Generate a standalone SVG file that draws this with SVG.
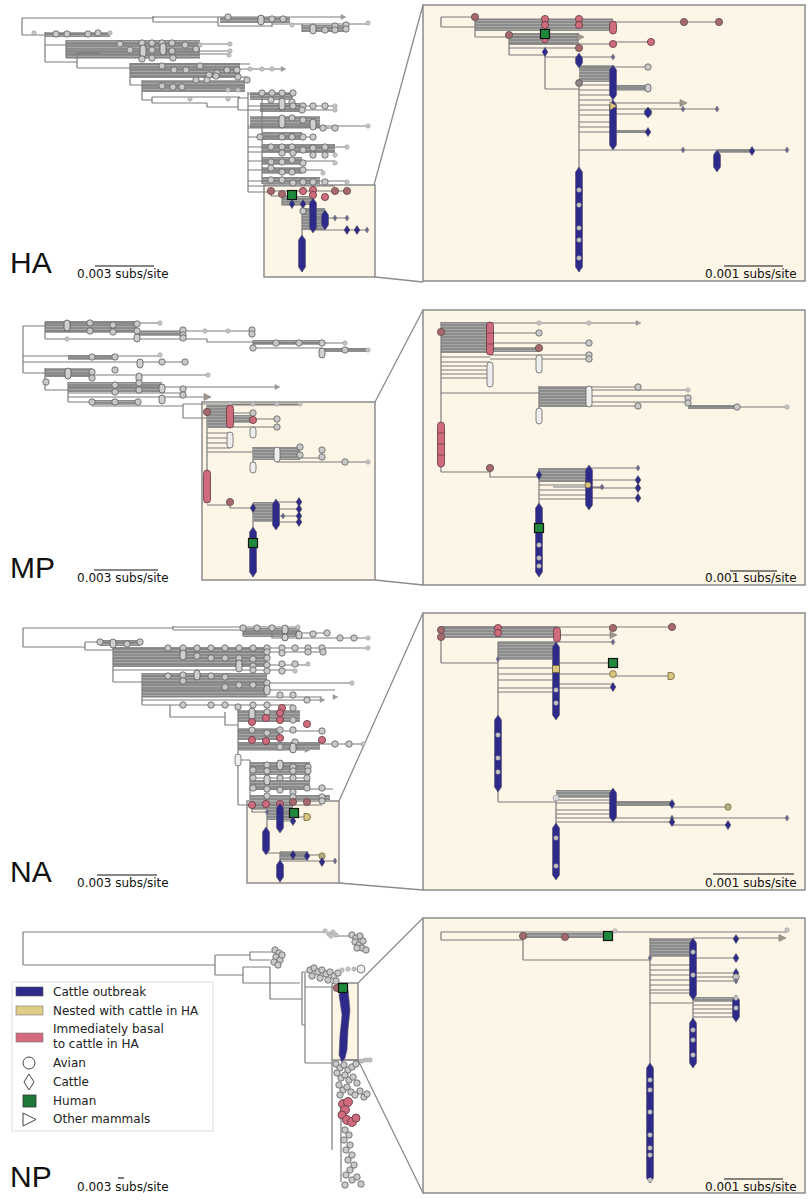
<svg xmlns="http://www.w3.org/2000/svg" width="809" height="1200" viewBox="0 0 809 1200">
<style>
.bg{fill:#ffffff}
.pan{fill:#fdf5e6;stroke:#8c8c8c;stroke-width:1.5}
.zl{stroke:#8c8c8c;stroke-width:1.3;fill:none}
.br{stroke:#7d7d7d;stroke-width:1.2;fill:none}
.bd{fill:url(#stripe)}
.ov{fill:#cfcfcf;stroke:#555;stroke-width:0.8}
.wo{fill:#eeeeee;stroke:#666;stroke-width:0.8}
.pc{fill:#cf6b7c;stroke:#5e3a40;stroke-width:0.8}
.col{fill:#2e2a8a;stroke:#55556a;stroke-width:0.6}
.big{font-family:"Liberation Sans",Arial,sans-serif;font-size:30px;fill:#111}
.sc{font-family:"DejaVu Sans",Verdana,sans-serif;font-size:12px;fill:#111}
.lg{font-family:"DejaVu Sans",Verdana,sans-serif;font-size:12px;fill:#222}
.sb{stroke:#111;stroke-width:1.1}
</style>
<defs>
<pattern id="stripe" width="4" height="3" patternUnits="userSpaceOnUse"><rect width="4" height="3" fill="#8c8c8c"/><rect y="2" width="4" height="0.8" fill="#adadad"/></pattern>
<circle id="a" r="3.2" fill="#c9c9c9" stroke="#5e5e5e" stroke-width="0.8"/>
<circle id="s" r="2.2" fill="#c4c4c4" stroke="#a0a0a0" stroke-width="0.6"/>
<circle id="p" r="3.6" fill="#cf6b7c" stroke="#5e3a40" stroke-width="0.8"/>
<circle id="q" r="3.6" fill="#a8696c" stroke="#5e4a4a" stroke-width="0.8"/>
<circle id="y" r="3.4" fill="#d9c57c" stroke="#6e6340" stroke-width="0.8"/>
<path id="d" d="M0,-4.5L2.8,0L0,4.5L-2.8,0Z" fill="#2e2a8a" stroke="#4a4a5a" stroke-width="0.6"/>
<path id="e" d="M0,-3L2,0L0,3L-2,0Z" fill="#6a6890" stroke="#777" stroke-width="0.5"/>
<rect id="h" x="-4.5" y="-4.5" width="9" height="9" fill="#1f8a3d" stroke="#111" stroke-width="1.2"/>
<path id="t" d="M-3,-3.5L4,0L-3,3.5Z" fill="#a3988a" stroke="#777" stroke-width="0.6"/>
<path id="u" d="M-2,-2.5L3,0L-2,2.5Z" fill="#999" stroke="#999" stroke-width="0.5"/>
</defs>
<rect class="bg" x="0" y="0" width="809" height="1200"/>

<!-- ================= HA ================= -->
<g id="panel-HA">
<rect class="pan" x="264" y="185" width="111" height="92"/>
<rect class="pan" x="423" y="5" width="382" height="276"/>
<g id="zoom-HA"><path class="zl" d="M374,185L423,5M375,277L423,282"/></g>
<g id="branches-HA">
<rect class="bd" x="220" y="17" width="70" height="6"/>
<rect class="bd" x="302" y="25" width="43" height="7"/>
<rect class="bd" x="45" y="32" width="65" height="5"/>
<rect class="bd" x="66" y="40" width="134" height="18"/>
<rect class="bd" x="130" y="63" width="110" height="15"/>
<rect class="bd" x="142" y="80" width="103" height="12"/>
<rect class="bd" x="250" y="92" width="43" height="8"/>
<rect class="bd" x="260" y="103" width="40" height="9"/>
<rect class="bd" x="250" y="116" width="70" height="12"/>
<rect class="bd" x="262" y="132" width="40" height="8"/>
<rect class="bd" x="262" y="144" width="73" height="9"/>
<rect class="bd" x="262" y="157" width="40" height="8"/>
<rect class="bd" x="262" y="167" width="40" height="7"/>
<rect class="bd" x="262" y="177" width="58" height="7"/>
<rect class="bd" x="282" y="196" width="31" height="9"/>
<rect class="bd" x="302" y="208" width="23" height="22"/>
<path class="br" d="M22,18V35M22,18H153M153,16V22M153,17H343M153,22H218M218,17V26M218,26H272M272,20V27M272,24H368M302,24V32
M22,35H45M45,32V62M45,34H110M45,45H66M66,40V58M66,44H232M66,51H230M66,54H228M66,58H200
M45,62H77M77,53V68M77,53H100M77,68H130M130,63V85M130,64H250M130,69H283M130,73H240M130,77H247
M130,85H142M142,80V100M142,86H245M142,100H152M152,97V103M152,97H240M152,103H207M207,103V107H238M238,98V110M238,98H248M238,110H248
M248,92V192M262,92V184M248,94H293M248,106H335M248,110H335M248,126H368M248,128H335M248,137H313M248,147H347M248,152H335M248,161H335M248,170H323M248,181H347M248,186H335
M248,192H271M271,191H347M271,191V196M271,196H292M282,196V205H302M302,205V272M302,210H325M313,218H347M313,230H367"/>
</g>
<g id="tips-HA">
<use href="#a" x="228" y="17"/><rect class="ov" x="258" y="15" width="6" height="10" rx="3"/><use href="#a" x="272" y="19"/><use href="#a" x="283" y="19"/><use href="#s" x="292" y="25"/><use href="#u" x="343" y="17"/>
<rect class="ov" x="310" y="24" width="6" height="10" rx="3"/><use href="#a" x="325" y="30"/><use href="#a" x="335" y="26"/><use href="#a" x="335" y="30"/><use href="#a" x="346" y="25"/><use href="#a" x="346" y="29"/><use href="#s" x="368" y="23"/>
<use href="#s" x="34" y="33"/><use href="#a" x="56" y="34"/><use href="#a" x="67" y="34"/><use href="#a" x="88" y="34"/><use href="#a" x="98" y="33"/><use href="#s" x="110" y="33"/>
<use href="#a" x="120" y="44"/><use href="#a" x="130" y="50"/><use href="#a" x="142" y="43"/><use href="#a" x="152" y="43"/><use href="#a" x="162" y="43"/><use href="#a" x="172" y="43"/><use href="#a" x="185" y="45"/><use href="#s" x="200" y="45"/><use href="#s" x="230" y="44"/>
<rect class="ov" x="140" y="45" width="6" height="12" rx="3"/><rect class="ov" x="160" y="43" width="6" height="12" rx="3"/><use href="#a" x="152" y="50"/><use href="#a" x="172" y="51"/><use href="#a" x="196" y="49"/><use href="#s" x="230" y="51"/><use href="#s" x="229" y="55"/><use href="#a" x="173" y="58"/><use href="#a" x="142" y="59"/><use href="#a" x="152" y="58"/>
<use href="#a" x="162" y="66"/><use href="#a" x="174" y="70"/><use href="#a" x="186" y="70"/><use href="#a" x="200" y="66"/><use href="#a" x="209" y="75"/><use href="#a" x="217" y="73"/><use href="#a" x="227" y="70"/><use href="#a" x="237" y="70"/><use href="#s" x="250" y="69"/><use href="#s" x="262" y="69"/><use href="#s" x="272" y="69"/><use href="#u" x="283" y="69"/><use href="#a" x="238" y="77"/><use href="#a" x="247" y="80"/>
<use href="#a" x="162" y="86"/><use href="#a" x="173" y="87"/><use href="#a" x="182" y="87"/><use href="#a" x="196" y="80"/><use href="#a" x="207" y="80"/><use href="#a" x="216" y="76"/><use href="#s" x="228" y="90"/><use href="#s" x="238" y="90"/><use href="#s" x="190" y="99"/><use href="#s" x="228" y="99"/>
<use href="#a" x="262" y="93"/><use href="#a" x="272" y="93"/><use href="#a" x="282" y="93"/><use href="#a" x="293" y="93"/>
<use href="#a" x="271" y="100"/><rect class="ov" x="279" y="98" width="6" height="12" rx="3"/><use href="#a" x="292" y="102"/>
<use href="#a" x="293" y="106"/><use href="#a" x="303" y="106"/><use href="#a" x="313" y="106"/><use href="#a" x="325" y="106"/><use href="#s" x="335" y="106"/><use href="#s" x="335" y="110"/><use href="#a" x="302" y="110"/>
<rect class="ov" x="279" y="115" width="6" height="13" rx="3"/><use href="#a" x="292" y="118"/><use href="#a" x="303" y="120"/><rect class="ov" x="310" y="119" width="6" height="11" rx="3"/><use href="#a" x="323" y="128"/><use href="#a" x="335" y="128"/><use href="#s" x="368" y="126"/>
<use href="#a" x="260" y="137"/><use href="#a" x="282" y="137"/><use href="#a" x="292" y="137"/><use href="#a" x="303" y="137"/><use href="#a" x="313" y="137"/>
<use href="#a" x="271" y="147"/><use href="#a" x="282" y="147"/><use href="#a" x="292" y="147"/><use href="#a" x="303" y="150"/><use href="#a" x="313" y="148"/><use href="#a" x="325" y="147"/><use href="#s" x="347" y="147"/>
<use href="#a" x="282" y="153"/><use href="#a" x="293" y="153"/><use href="#a" x="313" y="155"/><use href="#a" x="325" y="155"/><use href="#s" x="335" y="155"/>
<use href="#a" x="271" y="162"/><use href="#a" x="282" y="162"/><use href="#a" x="292" y="160"/><use href="#a" x="303" y="163"/><use href="#s" x="335" y="163"/>
<use href="#a" x="271" y="168"/><use href="#a" x="282" y="172"/><use href="#a" x="292" y="172"/><use href="#a" x="303" y="170"/><use href="#s" x="323" y="173"/>
<use href="#a" x="271" y="180"/><use href="#a" x="282" y="180"/><use href="#a" x="293" y="183"/><use href="#a" x="303" y="182"/><use href="#a" x="313" y="182"/><use href="#a" x="325" y="182"/><use href="#s" x="347" y="182"/>
<use href="#q" x="271" y="191"/><use href="#q" x="282" y="194"/><use href="#p" x="303" y="191"/><use href="#p" x="313" y="190"/><use href="#p" x="313" y="195"/><use href="#p" x="325" y="197"/><use href="#q" x="335" y="191"/><use href="#q" x="347" y="191"/>
<use href="#h" x="292" y="195"/>
<use href="#d" x="292" y="204"/><use href="#d" x="303" y="204"/><use href="#a" x="303" y="211"/>
<path class="col" d="M313,198L316.5,203V228L313,233L309.5,228V203Z"/>
<path class="col" d="M325,210L328.5,215V225L325,230L321.5,225V215Z"/>
<path class="col" d="M302,235L305.5,240V267L302,272L298.5,267V240Z"/>
<use href="#e" x="335" y="218"/><use href="#e" x="347" y="218"/><use href="#d" x="347" y="230"/><use href="#d" x="357" y="230"/><use href="#e" x="367" y="230"/>
</g>
<!-- HA large -->
<g id="branches-HA-zoom">
<rect class="bd" x="475" y="19" width="138" height="12"/>
<rect class="bd" x="509" y="33" width="70" height="12"/>
<rect class="bd" x="579" y="65" width="34" height="17"/>
<rect class="bd" x="613" y="85" width="35" height="5"/>
<rect class="bd" x="613" y="130" width="35" height="3"/>
<rect class="bd" x="717" y="149" width="35" height="4"/>
<path class="br" d="M441,17V27M441,17H475M441,27H475M475,17V37M475,19H613M613,22H719M475,37H509M509,35V55M509,37H579M509,44H613M613,42H651M509,48H579M509,55H545M545,52V89M545,57H613M545,89H579
M579,83V272M579,68H613M613,67H648M579,85H613M579,90H613M579,95H613M579,100H613M579,105H613M579,110H613M579,115H613M579,122H613M579,127H613M579,132H613
M613,86H648M613,90H648M613,103H683M613,109H717M613,114H648M613,132H648M579,150H787"/>
</g>
<g id="tips-HA-zoom">
<use href="#q" x="475" y="17"/><use href="#p" x="545" y="19"/><use href="#p" x="545" y="25"/><use href="#p" x="579" y="19"/><use href="#p" x="579" y="25"/>
<rect class="pc" x="609.5" y="21" width="7" height="13" rx="3.5"/><use href="#q" x="684" y="22"/><use href="#q" x="719" y="22"/>
<use href="#q" x="509" y="35"/><circle class="pc" cx="545" cy="40" r="3"/><use href="#h" x="545" y="34"/><use href="#t" x="580" y="37"/>
<use href="#q" x="579" y="48"/><use href="#p" x="613" y="44"/><use href="#p" x="651" y="42"/>
<use href="#d" x="545" y="52"/><use href="#e" x="613" y="57"/>
<path class="col" d="M579,53L582.5,58V63L579,68L575.5,63V58Z"/>
<circle cx="579" cy="83" r="3.4" fill="#8f8585" stroke="#555" stroke-width="0.8"/>
<path class="col" d="M613,65L616.5,70V95L613,100L609.5,95V70Z"/>
<path class="col" d="M613,100L616.5,105V145L613,150L609.5,145V105Z"/>
<use href="#a" x="648" y="67"/><rect class="ov" x="645" y="84" width="6" height="8" rx="3"/>
<path d="M610,102L617,106L610,110Z" fill="#d9c57c" stroke="#6e6340" stroke-width="0.7"/>
<use href="#t" x="683" y="103"/><use href="#e" x="683" y="109"/><use href="#e" x="717" y="109"/>
<path class="col" d="M648,107L651.5,111V114L648,118L644.5,114V111Z"/>
<use href="#d" x="648" y="132"/><use href="#e" x="683" y="150"/><use href="#d" x="752" y="151"/><use href="#e" x="787" y="150"/>
<path class="col" d="M717,150L720.5,155V167L717,172L713.5,167V155Z"/>
<path class="col" d="M579,167L582.5,172V267L579,272L575.5,267V172Z"/>
<use href="#s" x="579" y="190"/><use href="#s" x="579" y="205"/><use href="#s" x="579" y="228"/><use href="#s" x="579" y="240"/><use href="#s" x="579" y="258"/>
</g>
<g id="labels-HA">
<text class="big" x="10" y="273">HA</text>
<text class="sc" x="77" y="278">0.003 subs/site</text>
<line class="sb" x1="95" y1="266" x2="154" y2="266"/>
<text class="sc" x="705" y="278">0.001 subs/site</text>
<line class="sb" x1="724" y1="266" x2="783" y2="266"/>
</g>
</g>

<!-- ================= MP ================= -->
<g id="panel-MP">
<rect class="pan" x="202" y="402" width="173" height="178"/>
<rect class="pan" x="423" y="310" width="382" height="275"/>
<g id="zoom-MP"><path class="zl" d="M375,402L423,310M375,580L423,585"/></g>
<g id="branches-MP">
<rect class="bd" x="45" y="321" width="92" height="12"/>
<rect class="bd" x="137" y="331" width="46" height="5"/>
<rect class="bd" x="253" y="340" width="69" height="5"/>
<rect class="bd" x="322" y="348" width="46" height="4"/>
<rect class="bd" x="68" y="355" width="47" height="5"/>
<rect class="bd" x="45" y="368" width="47" height="9"/>
<rect class="bd" x="68" y="382" width="94" height="10"/>
<rect class="bd" x="92" y="400" width="46" height="5"/>
<path class="br" d="M23,326V373M23,326H45M45,322V339M45,323H160M45,331H252M45,339H207M207,339V342H253M253,340V348M253,343H345M253,348H322M322,348V353M322,350H368
M23,356H160M23,362H185
M23,373H45M45,368V390M45,375H208M45,390H68M68,382V402M68,387H277M68,393H185M68,397H207M68,402H92M92,406H183M183,404V418M183,404H300M183,418H207
M207,405V503M230,405H300M230,413H253M230,419H277M230,427H277M207,433H230M207,438H230M207,443H230M207,448H230
M207,452H253M253,447V472M253,449H300M253,455H300M253,458H322M277,462H368
M207,505H230M230,502V508H253M253,503V577M276,502H299M276,509H299M276,516H299M276,522H299"/>
<rect class="bd" x="207" y="405" width="23" height="23"/>
<rect class="bd" x="230" y="415" width="23" height="8"/>
<rect class="bd" x="253" y="447" width="47" height="13"/>
<rect class="bd" x="253" y="502" width="23" height="20"/>
</g>
<g id="tips-MP">
<rect class="ov" x="64" y="320" width="6" height="11" rx="3"/><use href="#a" x="90" y="323"/><use href="#a" x="113" y="325"/><use href="#a" x="137" y="324"/><use href="#s" x="160" y="323"/>
<use href="#a" x="90" y="331"/><use href="#a" x="113" y="332"/><use href="#a" x="137" y="331"/><use href="#a" x="183" y="330"/><use href="#s" x="205" y="331"/><use href="#s" x="228" y="331"/><use href="#a" x="252" y="330"/>
<use href="#a" x="183" y="335"/><use href="#a" x="252" y="334"/><rect class="ov" x="134" y="334" width="6" height="8" rx="3"/><use href="#s" x="67" y="339"/><use href="#a" x="183" y="338"/>
<use href="#a" x="253" y="348"/><use href="#a" x="276" y="343"/><use href="#a" x="299" y="343"/><use href="#a" x="322" y="343"/><use href="#s" x="345" y="343"/>
<rect class="ov" x="319" y="348" width="6" height="10" rx="3"/><use href="#a" x="345" y="350"/><use href="#s" x="368" y="350"/>
<use href="#a" x="92" y="357"/><use href="#a" x="115" y="357"/><use href="#s" x="160" y="355"/><rect class="ov" x="137" y="359" width="6" height="9" rx="3"/><use href="#a" x="162" y="362"/><use href="#a" x="185" y="362"/>
<rect class="ov" x="65" y="368" width="6" height="11" rx="3"/><use href="#a" x="92" y="372"/><use href="#a" x="115" y="370"/><rect class="ov" x="136" y="373" width="6" height="9" rx="3"/><use href="#s" x="208" y="375"/>
<use href="#a" x="46" y="382"/><use href="#a" x="92" y="378"/><use href="#a" x="115" y="385"/><use href="#a" x="115" y="392"/><use href="#a" x="139" y="383"/><use href="#a" x="139" y="390"/>
<rect class="ov" x="159" y="384" width="6" height="9" rx="3"/><rect class="ov" x="159" y="395" width="6" height="9" rx="3"/><use href="#a" x="183" y="389"/><use href="#a" x="183" y="395"/><use href="#t" x="207" y="397"/><use href="#u" x="277" y="387"/>
<use href="#a" x="92" y="402"/><use href="#a" x="115" y="402"/><use href="#a" x="138" y="402"/>
<use href="#s" x="230" y="404"/><use href="#s" x="253" y="404"/><use href="#s" x="277" y="404"/><use href="#s" x="300" y="404"/>
<use href="#q" x="207" y="412"/><rect class="pc" x="226.5" y="405" width="7" height="23" rx="3.5"/>
<use href="#a" x="253" y="413"/><use href="#p" x="253" y="420"/><use href="#a" x="277" y="419"/><use href="#a" x="277" y="427"/>
<rect class="wo" x="227" y="432" width="6" height="16" rx="3"/><rect class="wo" x="250" y="427" width="6" height="11" rx="3"/>
<rect class="wo" x="274" y="447" width="6" height="15" rx="3"/><rect class="wo" x="250" y="462" width="6" height="11" rx="3"/>
<use href="#a" x="300" y="447"/><use href="#a" x="300" y="455"/><use href="#a" x="322" y="450"/><use href="#a" x="322" y="457"/><use href="#a" x="345" y="462"/><use href="#s" x="368" y="462"/>
<rect class="pc" x="203.5" y="470" width="7" height="33" rx="3.5"/>
<use href="#q" x="230" y="502"/><use href="#d" x="253" y="508"/>
<path class="col" d="M276,499L279.5,504V525L276,530L272.5,525V504Z"/>
<use href="#d" x="299" y="502"/><use href="#d" x="299" y="509"/><use href="#d" x="299" y="516"/><use href="#d" x="299" y="522"/><use href="#e" x="283" y="516"/>
<path class="col" d="M253,527L256.5,532V572L253,577L249.5,572V532Z"/>
<use href="#h" x="253" y="543"/>
</g>
<g id="branches-MP-zoom">
<rect class="bd" x="441" y="322" width="49" height="31"/>
<rect class="bd" x="490" y="347" width="49" height="5"/>
<rect class="bd" x="539" y="386" width="50" height="21"/>
<rect class="bd" x="688" y="405" width="49" height="4"/>
<rect class="bd" x="539" y="468" width="50" height="14"/>
<path class="br" d="M441,322V472M490,323H638M490,333H539M490,343H589M490,355H589M490,359H589M441,357H490M441,362H490M441,366H490M441,370H490M441,374H490M441,378H490
M441,393H539M539,386V423M589,387H638M589,390H688M589,396H688M589,402H688M589,406H638M688,407H787
M441,472H490M490,468V477H539M539,468V577M589,468H638M589,480H638M589,488H638M589,498H638M553,487H602M539,485H589M539,490H589M539,495H589M539,499H589"/>
</g>
<g id="tips-MP-zoom">
<use href="#q" x="441" y="332"/><rect class="pc" x="486.5" y="322" width="7" height="33" rx="3.5"/>
<path d="M487,333H494M487,344H494" stroke="#5e3a40" stroke-width="0.7"/>
<use href="#s" x="539" y="323"/><use href="#s" x="589" y="323"/><use href="#u" x="638" y="323"/>
<use href="#a" x="539" y="333"/><use href="#a" x="589" y="343"/><use href="#q" x="539" y="348"/><use href="#a" x="589" y="355"/><use href="#a" x="589" y="359"/>
<rect class="wo" x="536" y="355" width="6" height="18" rx="3"/><rect class="wo" x="487" y="362" width="6" height="25" rx="3"/>
<rect class="wo" x="586" y="386" width="6" height="21" rx="3"/><use href="#a" x="638" y="387"/><use href="#s" x="688" y="390"/><use href="#a" x="688" y="398"/><use href="#a" x="688" y="403"/><use href="#a" x="638" y="406"/><use href="#a" x="737" y="407"/><use href="#s" x="787" y="407"/>
<rect class="wo" x="536" y="408" width="6" height="16" rx="3"/>
<rect class="pc" x="437.5" y="422" width="7" height="45" rx="3.5"/>
<path d="M438,433H445M438,444H445M438,455H445" stroke="#5e3a40" stroke-width="0.7"/>
<use href="#q" x="490" y="468"/><use href="#d" x="539" y="475"/>
<path class="col" d="M589,465L592.5,470V505L589,510L585.5,505V470Z"/>
<circle cx="588" cy="485" r="3" fill="#d9c57c" stroke="#6e6340" stroke-width="0.8"/>
<use href="#e" x="638" y="468"/><use href="#d" x="638" y="480"/><use href="#d" x="638" y="488"/><use href="#d" x="638" y="498"/><use href="#e" x="602" y="487"/>
<path class="col" d="M539,503L542.5,508V572L539,577L535.5,572V508Z"/>
<use href="#s" x="539" y="545"/><use href="#s" x="539" y="558"/><use href="#s" x="539" y="566"/>
<use href="#h" x="539" y="528"/>
</g>
<g id="labels-MP">
<text class="big" x="10" y="578">MP</text>
<text class="sc" x="77" y="582">0.003 subs/site</text>
<line class="sb" x1="94" y1="570" x2="158" y2="570"/>
<text class="sc" x="705" y="582">0.001 subs/site</text>
<line class="sb" x1="730" y1="571" x2="777" y2="571"/>
</g>
</g>

<!-- ================= NA ================= -->
<g id="panel-NA">
<rect class="pan" x="247" y="801" width="92" height="82"/>
<rect class="pan" x="423" y="613" width="382" height="277"/>
<g id="zoom-NA"><path class="zl" d="M339,801L423,613M339,883L423,890"/></g>
<g id="branches-NA">
<rect class="bd" x="243" y="628" width="57" height="9"/>
<rect class="bd" x="100" y="640" width="40" height="6"/>
<rect class="bd" x="113" y="647" width="154" height="20"/>
<rect class="bd" x="142" y="673" width="125" height="24"/>
<rect class="bd" x="238" y="710" width="62" height="12"/>
<rect class="bd" x="238" y="728" width="42" height="12"/>
<rect class="bd" x="238" y="742" width="82" height="8"/>
<rect class="bd" x="250" y="762" width="60" height="13"/>
<rect class="bd" x="250" y="780" width="60" height="10"/>
<rect class="bd" x="250" y="795" width="80" height="5"/>
<rect class="bd" x="252" y="802" width="41" height="8"/>
<rect class="bd" x="267" y="810" width="26" height="10"/>
<rect class="bd" x="280" y="851" width="28" height="9"/>
<path class="br" d="M23,628V647M23,628H173M173,626V630M173,627H298M173,630H243M243,628V636M243,633H327M272,633V638H368
M23,647H85M85,642V650M85,642H140M85,650H113M113,647V682M113,648H368M113,652H323M113,658H267M113,665H308M113,670H295
M113,682H142M142,673V705M142,676H225M142,683H352M142,690H335M142,697H322M142,700H322M142,705H293M170,705V717H225M225,712V725H238
M238,705V805M250,760V800M238,760H250M238,731H322M238,744H363M238,750H307M250,767H308M250,778H307M250,789H333
M238,805H252M252,805H322M252,805V812H267M267,812V853M280,813H294M280,817H307M280,821H293M267,853H280M280,852V882M280,855H322M280,861H335"/>
</g>
<g id="tips-NA">
<use href="#a" x="243" y="628"/><use href="#a" x="257" y="628"/><use href="#a" x="272" y="628"/><rect class="ov" x="282" y="625" width="6" height="9" rx="3"/><use href="#s" x="298" y="627"/>
<rect class="ov" x="282" y="634" width="6" height="7" rx="3"/><rect class="ov" x="296" y="631" width="6" height="8" rx="3"/><use href="#a" x="313" y="634"/><use href="#a" x="327" y="633"/><use href="#a" x="340" y="638"/><use href="#a" x="354" y="638"/><use href="#s" x="368" y="638"/>
<use href="#a" x="100" y="642"/><rect class="ov" x="110" y="639" width="6" height="9" rx="3"/><use href="#a" x="127" y="644"/><use href="#a" x="140" y="642"/>
<use href="#a" x="168" y="648"/><use href="#a" x="183" y="648"/><use href="#a" x="197" y="648"/><use href="#a" x="211" y="648"/><use href="#a" x="225" y="648"/><use href="#a" x="239" y="648"/><use href="#a" x="253" y="648"/><use href="#a" x="267" y="648"/><use href="#a" x="282" y="648"/><use href="#a" x="295" y="648"/><use href="#a" x="308" y="648"/><use href="#a" x="322" y="648"/><use href="#s" x="368" y="648"/>
<use href="#a" x="267" y="652"/><use href="#a" x="282" y="653"/><use href="#a" x="308" y="652"/><use href="#a" x="323" y="652"/>
<rect class="ov" x="180" y="650" width="6" height="10" rx="3"/><use href="#a" x="197" y="656"/><use href="#a" x="211" y="658"/><use href="#a" x="225" y="658"/><use href="#a" x="239" y="658"/><use href="#a" x="253" y="659"/><use href="#a" x="267" y="658"/>
<use href="#a" x="239" y="665"/><use href="#a" x="253" y="666"/><use href="#a" x="267" y="665"/><use href="#a" x="282" y="664"/><use href="#a" x="295" y="664"/><use href="#s" x="308" y="664"/>
<rect class="ov" x="236" y="660" width="6" height="12" rx="3"/><use href="#a" x="253" y="670"/><use href="#a" x="267" y="671"/><use href="#a" x="282" y="671"/><use href="#s" x="295" y="671"/>
<use href="#a" x="168" y="676"/><use href="#a" x="183" y="675"/><use href="#a" x="183" y="681"/><rect class="ov" x="194" y="670" width="6" height="10" rx="3"/><use href="#a" x="211" y="676"/><use href="#a" x="225" y="677"/><use href="#a" x="225" y="687"/><use href="#a" x="239" y="685"/><use href="#a" x="253" y="685"/><use href="#a" x="267" y="683"/>
<rect class="ov" x="264" y="685" width="6" height="10" rx="3"/><use href="#a" x="280" y="695"/><use href="#a" x="293" y="695"/><use href="#a" x="307" y="700"/><use href="#u" x="322" y="700"/><use href="#u" x="335" y="697"/><use href="#s" x="352" y="683"/>
<use href="#a" x="183" y="705"/><use href="#a" x="211" y="705"/><use href="#a" x="225" y="705"/><use href="#a" x="238" y="707"/><use href="#a" x="253" y="705"/><use href="#a" x="267" y="705"/><use href="#p" x="282" y="708"/><use href="#a" x="293" y="708"/>
<rect class="ov" x="249" y="708" width="6" height="12" rx="3"/><use href="#a" x="267" y="712"/><use href="#p" x="280" y="713"/>
<use href="#p" x="252" y="722"/><use href="#p" x="266" y="718"/><use href="#p" x="280" y="720"/><use href="#a" x="293" y="720"/><use href="#p" x="307" y="724"/>
<use href="#a" x="252" y="730"/><use href="#a" x="267" y="733"/><use href="#a" x="280" y="730"/><use href="#a" x="293" y="730"/><use href="#a" x="322" y="731"/>
<use href="#p" x="252" y="740"/><use href="#p" x="266" y="741"/><use href="#p" x="280" y="738"/><use href="#a" x="295" y="742"/><use href="#p" x="322" y="740"/><use href="#a" x="335" y="744"/><use href="#a" x="349" y="744"/><use href="#s" x="363" y="744"/>
<use href="#a" x="280" y="747"/><rect class="ov" x="290" y="743" width="6" height="10" rx="3"/><use href="#u" x="307" y="750"/>
<rect class="wo" x="235" y="754" width="6" height="12" rx="3"/>
<use href="#a" x="267" y="765"/><rect class="ov" x="277" y="760" width="6" height="10" rx="3"/><use href="#a" x="293" y="767"/><use href="#a" x="308" y="767"/>
<use href="#a" x="253" y="770"/><use href="#a" x="267" y="771"/><use href="#a" x="293" y="771"/><use href="#a" x="308" y="771"/>
<use href="#a" x="253" y="778"/><rect class="ov" x="264" y="775" width="6" height="10" rx="3"/><use href="#a" x="280" y="778"/><use href="#a" x="293" y="778"/><use href="#a" x="307" y="778"/>
<use href="#a" x="253" y="788"/><use href="#a" x="267" y="789"/><use href="#a" x="280" y="790"/><use href="#a" x="293" y="792"/><use href="#a" x="307" y="788"/><use href="#a" x="322" y="788"/>
<use href="#a" x="267" y="796"/><use href="#a" x="293" y="797"/><use href="#a" x="322" y="797"/>
<use href="#p" x="252" y="805"/><use href="#p" x="266" y="804"/><use href="#p" x="280" y="804"/><use href="#q" x="293" y="802"/><use href="#q" x="307" y="802"/><use href="#a" x="322" y="801"/>
<use href="#e" x="267" y="812"/>
<path class="col" d="M280,803L283.5,808V828L280,833L276.5,828V808Z"/>
<use href="#h" x="294" y="813"/>
<path d="M304,813.5H307A3.5,3.5 0 0 1 307,820.5H304Z" fill="#d9c57c" stroke="#6e6340" stroke-width="0.8"/>
<use href="#d" x="293" y="821"/>
<path class="col" d="M266,827L269.5,832V850L266,855L262.5,850V832Z"/>
<path class="col" d="M280,860L283.5,865V877L280,882L276.5,877V865Z"/>
<use href="#d" x="293" y="855"/><use href="#d" x="307" y="856"/>
<circle cx="322" cy="856" r="3.2" fill="#b8ad80" stroke="#6e6340" stroke-width="0.7"/>
<use href="#d" x="322" y="862"/><use href="#e" x="335" y="861"/>
</g>
<g id="branches-NA-zoom">
<rect class="bd" x="441" y="626" width="116" height="12"/>
<rect class="bd" x="498" y="641" width="59" height="19"/>
<rect class="bd" x="556" y="790" width="57" height="8"/>
<rect class="bd" x="613" y="801" width="59" height="5"/>
<path class="br" d="M441,630V663M441,627H673M557,635H613M557,642H613M441,663H498M498,642V802M557,663H613M498,668H557M498,674H613M613,676H671M498,680H557M498,688H613M498,692H557M557,684H613
M498,802H556M556,797V878M556,800H613M556,803H672M672,807H728M556,810H613M556,814H613M556,818H787M556,822H672M672,825H728"/>
</g>
<g id="tips-NA-zoom">
<use href="#q" x="441" y="630"/><use href="#q" x="441" y="637"/><use href="#p" x="498" y="628"/><use href="#p" x="498" y="633"/><use href="#q" x="613" y="628"/><use href="#q" x="672" y="627"/>
<rect class="pc" x="553.5" y="627" width="7" height="15" rx="3.5"/>
<use href="#t" x="613" y="635"/><use href="#e" x="613" y="642"/><use href="#e" x="498" y="659"/>
<path class="col" d="M556,642L559.5,647V715L556,720L552.5,715V647Z"/>
<rect x="552.5" y="665.5" width="7" height="7" fill="#d9c57c" stroke="#6e6340" stroke-width="0.8"/>
<use href="#s" x="556" y="690"/><use href="#s" x="556" y="703"/>
<use href="#h" x="613" y="663"/><use href="#y" x="613" y="674"/>
<path d="M668,672.5H671A3.5,3.5 0 0 1 671,679.5H668Z" fill="#d9c57c" stroke="#6e6340" stroke-width="0.8"/>
<use href="#d" x="613" y="687"/>
<path class="col" d="M498,715L501.5,720V787L498,792L494.5,787V720Z"/>
<use href="#s" x="498" y="735"/><use href="#s" x="498" y="758"/><use href="#s" x="498" y="772"/>
<circle cx="556" cy="798" r="3" fill="#dcdcdc" stroke="#999" stroke-width="0.7"/>
<path class="col" d="M613,788L616.5,793V817L613,822L609.5,817V793Z"/>
<use href="#d" x="672" y="804"/><circle cx="728" cy="807" r="3.2" fill="#b8ad80" stroke="#6e6340" stroke-width="0.7"/>
<use href="#e" x="787" y="818"/><use href="#e" x="672" y="818"/><use href="#d" x="672" y="822"/><use href="#d" x="728" y="825"/>
<path class="col" d="M556,823L559.5,828V875L556,880L552.5,875V828Z"/>
<use href="#s" x="556" y="838"/><use href="#s" x="556" y="866"/>
</g>
<g id="labels-NA">
<text class="big" x="10" y="882">NA</text>
<text class="sc" x="77" y="887">0.003 subs/site</text>
<line class="sb" x1="97" y1="875" x2="157" y2="875"/>
<text class="sc" x="705" y="887">0.001 subs/site</text>
<line class="sb" x1="713" y1="874" x2="794" y2="874"/>
</g>
</g>

<!-- ================= NP ================= -->
<g id="panel-NP">
<rect class="pan" x="332" y="983" width="26" height="77"/>
<rect class="pan" x="423" y="918" width="382" height="275"/>
<g id="zoom-NP"><path class="zl" d="M358,983L423,918M358,1060L423,1193"/></g>
<g id="branches-NP">
<path class="br" d="M23,932V965M23,932H325M335,936H353M23,965H215M215,955V975M215,955H250M250,952V960M250,952H277M250,960H270
M215,975H243M243,967V983M243,967H270M270,967V999M243,983H300M270,999H302M302,972V1025M302,972H308M302,1025H305M305,973V1063M305,987H338M305,1063H332M332,1060V1150M340,1060H370M341,1100V1182"/>
</g>
<g id="tips-NP">
<use href="#s" x="325" y="931"/><use href="#s" x="329" y="934"/><use href="#s" x="333" y="932"/><use href="#s" x="331" y="936"/><use href="#s" x="336" y="935"/>
<use href="#a" x="352" y="935"/><use href="#a" x="356" y="938"/><use href="#a" x="360" y="936"/><use href="#a" x="355" y="942"/><use href="#a" x="359" y="945"/><use href="#a" x="363" y="941"/><use href="#a" x="362" y="948"/><use href="#a" x="366" y="950"/><use href="#a" x="357" y="948"/>
<use href="#a" x="275" y="950"/><use href="#a" x="279" y="953"/><use href="#a" x="276" y="957"/><use href="#a" x="280" y="960"/><use href="#a" x="274" y="962"/><use href="#a" x="278" y="965"/><use href="#a" x="282" y="955"/>
<use href="#a" x="310" y="970"/><use href="#a" x="314" y="968"/><use href="#a" x="318" y="972"/><use href="#a" x="322" y="970"/><use href="#a" x="326" y="974"/><use href="#a" x="330" y="972"/><use href="#a" x="334" y="976"/><use href="#a" x="338" y="973"/><use href="#a" x="312" y="976"/><use href="#a" x="320" y="978"/><use href="#a" x="328" y="980"/><use href="#a" x="336" y="981"/>
<use href="#s" x="342" y="970"/><use href="#s" x="348" y="969"/><use href="#s" x="354" y="969"/><circle cx="361" cy="969" r="4" fill="#eee" stroke="#666" stroke-width="0.8"/>
<path class="col" d="M343,985L348,990L350,1010L348,1030L347,1050L345,1058L342,1062L339,1055L340,1035L342,1015L339,995Z"/>
<use href="#q" x="337" y="988"/><use href="#h" x="343" y="988"/>
<use href="#a" x="336" y="1064"/><use href="#a" x="340" y="1068"/><use href="#a" x="344" y="1065"/><use href="#a" x="348" y="1070"/><use href="#a" x="352" y="1067"/><use href="#a" x="356" y="1064"/><use href="#a" x="337" y="1073"/><use href="#a" x="341" y="1078"/><use href="#a" x="345" y="1075"/><use href="#a" x="349" y="1080"/><use href="#a" x="353" y="1077"/><use href="#a" x="357" y="1083"/><use href="#a" x="339" y="1085"/><use href="#a" x="343" y="1090"/><use href="#a" x="347" y="1087"/><use href="#a" x="351" y="1092"/><use href="#a" x="355" y="1095"/><use href="#a" x="360" y="1091"/><use href="#a" x="364" y="1097"/><use href="#a" x="367" y="1094"/><use href="#a" x="340" y="1095"/>
<use href="#s" x="362" y="1061"/><use href="#s" x="366" y="1060"/><use href="#s" x="370" y="1060"/>
<circle class="pc" cx="343" cy="1104" r="4.5"/><circle class="pc" cx="348" cy="1102" r="4.5"/><circle class="pc" cx="345" cy="1110" r="4.5"/><circle class="pc" cx="342" cy="1115" r="4"/><circle class="pc" cx="347" cy="1120" r="4.5"/><circle class="pc" cx="352" cy="1122" r="4.5"/><circle class="pc" cx="356" cy="1118" r="4"/>
<use href="#a" x="345" y="1130"/><use href="#a" x="349" y="1135"/><use href="#a" x="344" y="1140"/><use href="#a" x="350" y="1145"/><use href="#a" x="346" y="1150"/><use href="#a" x="352" y="1155"/><use href="#a" x="348" y="1160"/><use href="#a" x="354" y="1165"/><use href="#a" x="350" y="1170"/><use href="#a" x="346" y="1175"/><use href="#a" x="352" y="1180"/><use href="#a" x="357" y="1177"/><use href="#a" x="361" y="1184"/><use href="#a" x="345" y="1185"/>
</g>
<g id="branches-NP-zoom">
<rect class="bd" x="523" y="933" width="84" height="5"/>
<rect class="bd" x="650" y="938" width="43" height="19"/>
<rect class="bd" x="693" y="997" width="43" height="5"/>
<path class="br" d="M441,932V940M441,932H787M441,940H523M523,934V960M523,960H650M650,938V1183M693,938H782M650,965H693M650,970H693M650,975H693M650,980H693M650,985H693M650,990H693M650,993H693
M693,958H736M693,973H736M693,977H736M693,981H736M650,1003H693M693,997V1068M693,1005H736M693,1009H736M693,1013H736M693,1017H736"/>
</g>
<g id="tips-NP-zoom">
<use href="#q" x="523" y="936"/><use href="#q" x="565" y="937"/><use href="#h" x="608" y="936"/><use href="#s" x="615" y="931"/><use href="#s" x="787" y="930"/>
<use href="#e" x="650" y="958"/>
<path class="col" d="M693,938L696.5,943V995L693,1000L689.5,995V943Z"/>
<use href="#s" x="693" y="952"/><use href="#s" x="693" y="975"/>
<use href="#t" x="782" y="938"/><use href="#d" x="736" y="939"/><use href="#d" x="736" y="958"/><use href="#d" x="736" y="973"/><use href="#a" x="736" y="977"/><use href="#e" x="736" y="981"/>
<path class="col" d="M736,995L739.5,1000V1017L736,1022L732.5,1017V1000Z"/>
<use href="#s" x="736" y="998"/><use href="#s" x="736" y="1008"/>
<path class="col" d="M693,1018L696.5,1023V1063L693,1068L689.5,1063V1023Z"/>
<use href="#s" x="693" y="1030"/><use href="#s" x="693" y="1040"/><use href="#s" x="693" y="1055"/>
<path class="col" d="M650,1063L653.5,1068V1178L650,1183L646.5,1178V1068Z"/>
<use href="#s" x="650" y="1080"/><use href="#s" x="650" y="1090"/><use href="#s" x="650" y="1112"/><use href="#s" x="650" y="1135"/><use href="#s" x="650" y="1148"/><use href="#s" x="650" y="1155"/><use href="#s" x="650" y="1180"/>
</g>
<g id="labels-NP">
<text class="big" x="10" y="1187">NP</text>
<text class="sc" x="77" y="1191">0.003 subs/site</text>
<line class="sb" x1="118" y1="1178" x2="124" y2="1178"/>
<text class="sc" x="705" y="1191">0.001 subs/site</text>
<line class="sb" x1="724" y1="1179" x2="783" y2="1179"/>
</g>
</g>

<!-- ================= Legend ================= -->
<g id="legend">
<rect x="12" y="982" width="201" height="149" fill="#ffffff" stroke="#dddddd" stroke-width="1"/>
<g id="leg-cattle-outbreak"><rect x="16" y="987" width="27" height="9" fill="#2e2a8a" stroke="#555" stroke-width="0.6"/><text class="lg" x="53" y="996">Cattle outbreak</text></g>
<g id="leg-nested"><rect x="16" y="1006" width="27" height="9" fill="#dfcc86" stroke="#777" stroke-width="0.6"/><text class="lg" x="53" y="1015">Nested with cattle in HA</text></g>
<g id="leg-basal"><rect x="16" y="1033" width="27" height="9" fill="#d56a7e" stroke="#777" stroke-width="0.6"/><text class="lg" x="53" y="1033">Immediately basal</text><text class="lg" x="53" y="1048">to cattle in HA</text></g>
<g id="leg-avian"><circle cx="29" cy="1063" r="6" fill="#fff" stroke="#444" stroke-width="1"/><text class="lg" x="53" y="1067">Avian</text></g>
<g id="leg-cattle"><path d="M29,1074L34,1082L29,1090L24,1082Z" fill="#fff" stroke="#444" stroke-width="1"/><text class="lg" x="53" y="1086">Cattle</text></g>
<g id="leg-human"><rect x="23" y="1095" width="13" height="12" fill="#1f7a3a" stroke="#333" stroke-width="0.8"/><text class="lg" x="53" y="1105">Human</text></g>
<g id="leg-other"><path d="M23,1113L36,1119.5L23,1126Z" fill="#fff" stroke="#444" stroke-width="1"/><text class="lg" x="53" y="1123">Other mammals</text></g>
</g>
</svg>
